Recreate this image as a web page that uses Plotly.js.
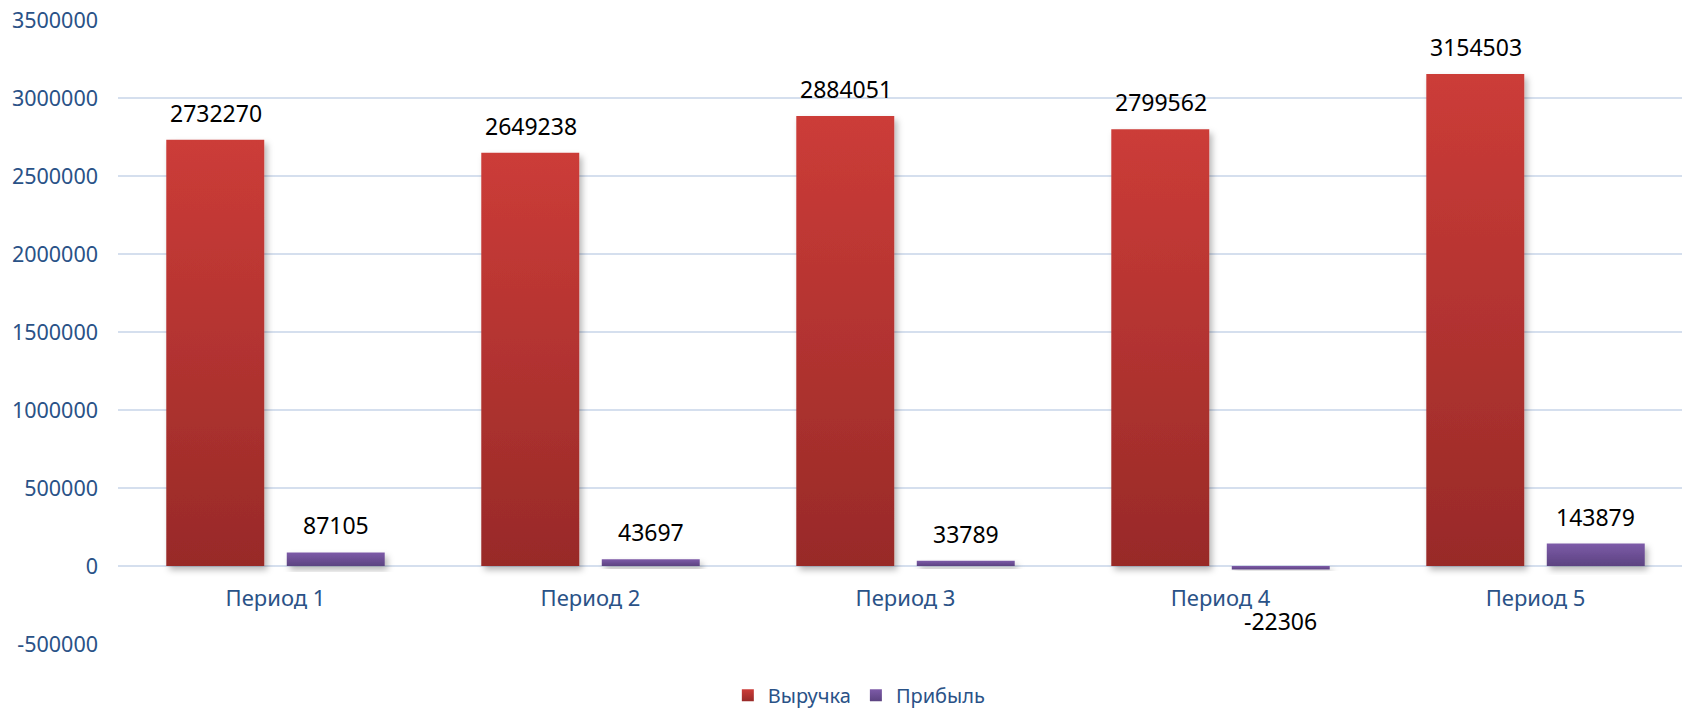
<!DOCTYPE html>
<html>
<head>
<meta charset="utf-8">
<script src="https://cdn.plot.ly/plotly-3.0.1.min.js"></script>
<style>html,body{margin:0;padding:0;background:#fff;overflow:hidden;width:1682px;height:708px;}#chart{width:1682px;height:720px;}</style>
</head>
<body>
<div id="chart"></div>
<script>
const categories = ['Период 1', 'Период 2', 'Период 3', 'Период 4', 'Период 5'];
const revenue = [2732270, 2649238, 2884051, 2799562, 3154503];
const profit = [87105, 43697, 33789, -22306, 143879];
const seriesNames = ['Выручка', 'Прибыль'];
const tickVals = [-500000, 0, 500000, 1000000, 1500000, 2000000, 2500000, 3000000, 3500000];

const FONT = 'Noto Sans, Open Sans, sans-serif';
const BLUE = '#2A5287';
const SLOT_PX = 60;

const traces = [
  {type: 'bar', name: seriesNames[0], x: categories, y: revenue, marker: {color: '#B83433'}, hoverinfo: 'x+y'},
  {type: 'bar', name: seriesNames[1], x: categories, y: profit, marker: {color: '#6D4E96'}, hoverinfo: 'x+y'}
];

function labelAnn(cat, v, side) {
  return {
    x: cat, y: v, xref: 'x', yref: 'y', text: String(v), showarrow: false,
    xshift: side * SLOT_PX, yanchor: 'middle',
    yshift: v >= 0 ? 27 : -52,
    font: {family: FONT, size: 23, color: '#000'}
  };
}
const annotations = [];
categories.forEach((c, i) => {
  annotations.push(labelAnn(c, revenue[i], -1));
  annotations.push(labelAnn(c, profit[i], 1));
});

const layout = {
  width: 1682, height: 720,
  margin: {l: 118, r: 0, t: 20, b: 76},
  paper_bgcolor: '#fff', plot_bgcolor: '#fff',
  barmode: 'group', bargap: 0.235, bargroupgap: 0.187,
  font: {family: FONT, size: 21, color: BLUE},
  xaxis: {
    type: 'category', range: [-0.5, 4.465], anchor: 'free', position: 0.125,
    showgrid: false, zeroline: false, showline: false, ticks: '',
    ticklabelstandoff: 17,
    tickfont: {family: FONT, size: 22, color: BLUE}
  },
  yaxis: {
    range: [-500000, 3500000], tickvals: tickVals, ticktext: tickVals.map(String),
    showgrid: true, gridcolor: '#D5DFEE', gridwidth: 2,
    zeroline: true, zerolinecolor: '#D5DFEE', zerolinewidth: 2,
    showline: false, ticks: '', ticklabelstandoff: 19,
    tickfont: {family: FONT, size: 21.5, color: BLUE}
  },
  showlegend: true,
  legend: {orientation: 'h', x: 0.474, xanchor: 'center', y: -0.082, yanchor: 'middle',
           font: {family: FONT, size: 20, color: BLUE}, bgcolor: 'rgba(0,0,0,0)'},
  annotations: annotations
};

Plotly.newPlot('chart', traces, layout, {displayModeBar: false, staticPlot: true}).then(gd => {
  const ns = 'http://www.w3.org/2000/svg';
  const svg = gd.querySelector('svg.main-svg');
  let defs = svg.querySelector('defs');
  if (!defs) { defs = document.createElementNS(ns, 'defs'); svg.insertBefore(defs, svg.firstChild); }
  const grads = [['#CC3C38', '#982A28'], ['#7D5BA8', '#5C4381']];
  grads.forEach((g, i) => {
    const lg = document.createElementNS(ns, 'linearGradient');
    lg.setAttribute('id', 'barGrad' + i);
    lg.setAttribute('x1', '0'); lg.setAttribute('y1', '0');
    lg.setAttribute('x2', '0'); lg.setAttribute('y2', '1');
    [[0, g[0]], [1, g[1]]].forEach(s => {
      const st = document.createElementNS(ns, 'stop');
      st.setAttribute('offset', s[0]); st.setAttribute('stop-color', s[1]);
      lg.appendChild(st);
    });
    defs.appendChild(lg);
  });
  const f = document.createElementNS(ns, 'filter');
  f.setAttribute('id', 'barShadow');
  f.setAttribute('x', '-20%'); f.setAttribute('y', '-20%');
  f.setAttribute('width', '160%'); f.setAttribute('height', '160%');
  const ds = document.createElementNS(ns, 'feDropShadow');
  ds.setAttribute('dx', '3'); ds.setAttribute('dy', '4'); ds.setAttribute('stdDeviation', '3');
  ds.setAttribute('flood-color', '#000'); ds.setAttribute('flood-opacity', '0.28');
  f.appendChild(ds);
  defs.appendChild(f);
  gd.querySelectorAll('.barlayer .trace').forEach((tr, i) => {
    tr.querySelectorAll('path').forEach(p => {
      p.style.fill = 'url(#barGrad' + i + ')';
      p.style.filter = 'url(#barShadow)';
    });
  });
  gd.querySelectorAll('.legend .traces').forEach((tr, i) => {
    tr.querySelectorAll('.legendpoints path').forEach(p => { p.style.fill = 'url(#barGrad' + i + ')'; });
  });
});
</script>
</body>
</html>
